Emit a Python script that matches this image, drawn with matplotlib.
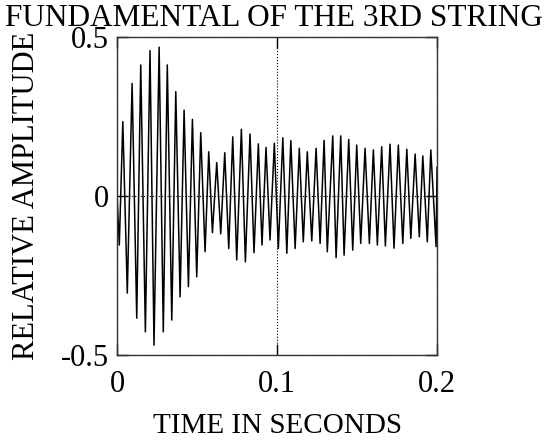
import matplotlib
matplotlib.use("Agg")
import matplotlib.pyplot as plt

# peak/trough times (ms) and values
time_ms = [
    0.0, 1.4, 3.6, 6.4, 9.4, 12.3, 14.8, 17.7, 20.6, 23.1,
    26.3, 28.9, 31.4, 34.2, 36.7, 39.4, 41.9, 44.6, 47.1, 49.8,
    52.3, 55.0, 57.3, 59.6, 62.3, 64.8, 67.3, 69.8, 72.3, 74.8,
    77.7, 80.2, 83.1, 85.6, 88.3, 90.6, 93.1, 95.6, 98.3, 100.8,
    103.6, 106.1, 108.6, 111.3, 113.9, 116.4, 118.9, 121.7, 124.4, 126.9,
    129.4, 131.4, 134.8, 136.9, 139.8, 141.9, 144.8, 147.3, 149.8, 152.3,
    155.0, 157.7, 160.2, 162.7, 165.4, 167.7, 170.6, 173.1, 175.8, 178.6,
    181.1, 183.6, 186.3, 188.9, 191.1, 193.9, 196.1, 199.4, 200.0,
]
amplitude = [
    0.0, -0.154, 0.234, -0.305, 0.354, -0.384, 0.412, -0.427, 0.457, -0.469,
    0.468, -0.427, 0.412, -0.390, 0.328, -0.317, 0.270, -0.285, 0.241, -0.254,
    0.199, -0.175, 0.139, -0.115, 0.105, -0.119, 0.136, -0.165, 0.186, -0.201,
    0.210, -0.207, 0.195, -0.178, 0.164, -0.154, 0.153, -0.138, 0.166, -0.165,
    0.183, -0.180, 0.174, -0.165, 0.150, -0.144, 0.139, -0.141, 0.150, -0.149,
    0.175, -0.175, 0.189, -0.194, 0.189, -0.186, 0.178, -0.170, 0.160, -0.149,
    0.150, -0.149, 0.145, -0.154, 0.155, -0.157, 0.163, -0.164, 0.160, -0.149,
    0.147, -0.133, 0.132, -0.128, 0.126, -0.144, 0.145, -0.159, 0.090,
]
x_ticks = [0, 0.1, 0.2]
x_labels = ["0", "0.1", "0.2"]
y_ticks = [-0.5, 0, 0.5]
y_labels = ["-0.5", "0", "0.5"]

plt.rcParams["font.family"] = ["Liberation Serif", "DejaVu Serif"]

fig = plt.figure(figsize=(5.47, 4.40), dpi=100)
ax = fig.add_axes([0.214, 0.193, 0.585, 0.723])

t = [v / 1000 for v in time_ms]
ax.plot(t, amplitude, color="black", lw=1.1)

ax.set_xlim(0, 0.2)
ax.set_ylim(-0.5, 0.5)
ax.set_xticks(x_ticks)
ax.set_xticklabels(x_labels)
ax.set_yticks(y_ticks)
ax.set_yticklabels(y_labels)
ax.tick_params(direction="in", length=8, width=1, labelsize=22,
               top=True, right=True)
ax.tick_params(axis="x", pad=11)
ax.tick_params(axis="y", pad=6)
ax.grid(True, linestyle=":", color="black", lw=0.8)
for s in ax.spines.values():
    s.set_linewidth(1.0)
    s.set_color("#333333")

ax.set_xlabel("TIME IN SECONDS", fontsize=21, labelpad=10)
ax.set_ylabel("RELATIVE AMPLITUDE", fontsize=22, labelpad=14)
fig.text(0.5, 0.99, "FUNDAMENTAL OF THE 3RD STRING", fontsize=22.5,
         ha="center", va="top")

fig.savefig("out.png", dpi=100)
